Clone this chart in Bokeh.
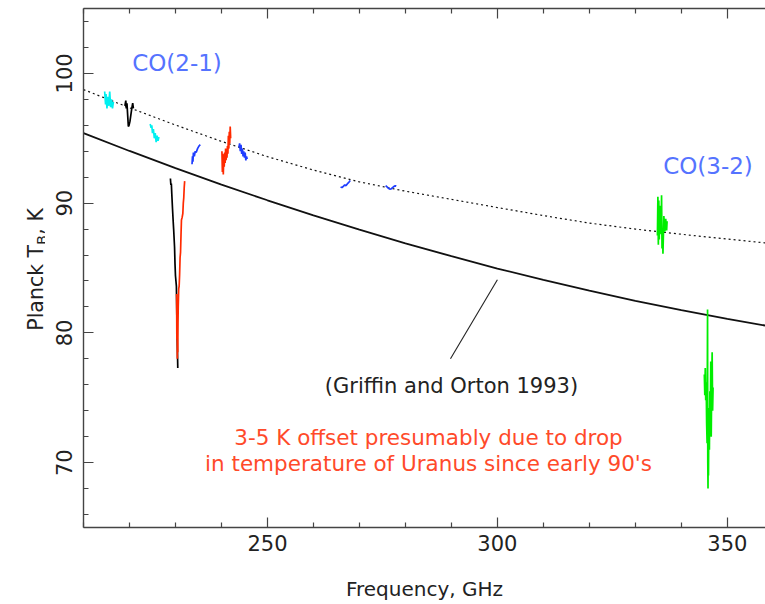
import math
from bokeh.plotting import figure
from bokeh.layouts import row
from bokeh.models import FixedTicker, LinearAxis, Range1d, Label
from bokeh.embed import file_html
from bokeh.resources import INLINE

# ---------------- data ----------------
# Griffin & Orton (1993) model, solid
model_freq = [210, 220, 230, 240, 250, 260, 270, 280, 290, 300, 310, 320, 330, 340, 350, 358.3]
model_tb = [95.40, 94.02, 92.70, 91.43, 90.22, 89.06, 87.96, 86.90, 85.91, 84.96, 84.08, 83.25, 82.47, 81.75, 81.08, 80.56]

# model shifted up (dotted)
offset_freq = [210, 220, 230, 240, 250, 260, 270, 280, 290, 300, 310, 320, 330, 340, 350, 358.3]
offset_tb = [98.75, 97.35, 96.02, 94.76, 93.58, 92.55, 91.64, 90.92, 90.29, 89.66, 89.04, 88.46, 88.00, 87.60, 87.23, 86.93]

cyan_a_freq = [214.6, 214.8, 214.9, 215.1, 215.3, 215.5, 215.7, 215.9, 216.1, 216.3, 216.5]
cyan_a_tb = [98.6, 97.6, 98.4, 97.3, 98.2, 97.5, 98.6, 97.4, 98.0, 97.3, 97.8]

black_a_freq = [219.0, 219.2, 219.3, 219.45, 219.6, 219.75, 219.9, 220.1, 220.3, 220.5, 220.7, 220.85]
black_a_tb = [97.5, 97.9, 97.3, 97.7, 96.8, 95.9, 96.0, 96.3, 96.8, 97.3, 97.7, 97.3]

cyan_b_freq = [224.5, 224.7, 224.85, 225.0, 225.2, 225.4, 225.6, 225.8, 226.0, 226.2, 226.4]
cyan_b_tb = [96.1, 95.8, 96.0, 95.4, 95.7, 95.0, 95.4, 94.7, 95.2, 94.8, 95.1]

black_line_freq = [228.9, 229.0, 229.1, 229.2, 229.35, 229.5, 229.6, 229.8, 229.9, 230.0, 230.2, 230.35, 230.5]
black_line_tb = [91.9, 91.4, 91.5, 90.7, 89.6, 88.6, 88.0, 86.6, 85.3, 84.4, 83.6, 80.0, 77.3]

red_line_freq = [230.25, 230.3, 230.35, 230.4, 230.45, 230.5, 230.55, 230.6, 230.7, 230.8, 230.9, 231.0,
                 231.1, 231.2, 231.3, 231.45, 231.6, 231.7, 231.8, 231.9, 232.0]
red_line_tb = [83.0, 79.5, 82.5, 78.0, 81.8, 78.5, 80.8, 82.0, 83.4, 83.6, 84.5, 85.8,
               86.2, 87.5, 88.7, 88.9, 89.2, 90.0, 90.4, 91.2, 91.7]

blue_a_freq = [233.6, 233.7, 233.8, 233.9, 234.1, 234.3, 234.5, 234.8, 235.1, 235.4]
blue_a_tb = [93.0, 93.6, 93.2, 93.9, 93.6, 94.0, 93.9, 94.2, 94.4, 94.5]

red_a_freq = [240.1, 240.2, 240.3, 240.4, 240.5, 240.6, 240.7, 240.8, 240.9, 241.0,
              241.1, 241.2, 241.3, 241.4, 241.5, 241.6, 241.7, 241.8, 241.9, 242.0]
red_a_tb = [94.0, 92.4, 93.8, 92.2, 93.5, 92.8, 93.9, 93.1, 94.2, 93.3,
            93.9, 93.5, 94.4, 93.8, 95.2, 94.2, 95.5, 94.6, 95.9, 95.0]

blue_b_freq = [243.8, 243.95, 244.1, 244.25, 244.4, 244.55, 244.7, 244.85, 245.0, 245.15, 245.3, 245.45, 245.6]
blue_b_tb = [94.3, 94.6, 94.0, 94.5, 93.8, 94.2, 93.6, 94.0, 93.5, 93.9, 93.3, 93.6, 93.4]

blue_c_freq = [265.9, 266.2, 266.5, 266.8, 267.1, 267.4, 267.7, 268.0]
blue_c_tb = [91.25, 91.2, 91.3, 91.4, 91.35, 91.5, 91.6, 91.75]

blue_d_freq = [275.7, 276.0, 276.3, 276.6, 276.9, 277.2, 277.5, 277.8, 278.0]
blue_d_tb = [91.35, 91.25, 91.15, 91.08, 91.1, 91.2, 91.28, 91.35, 91.3]

green_a_freq = [334.8, 334.9, 335.0, 335.1, 335.2, 335.3, 335.4, 335.5, 335.6, 335.7, 335.8, 335.9,
                336.0, 336.2, 336.4, 336.6, 336.8, 336.9]
green_a_tb = [87.5, 90.5, 86.8, 90.2, 87.2, 89.8, 88.2, 89.0, 87.6, 90.6, 86.5, 88.0,
              86.1, 89.0, 87.8, 88.8, 87.9, 88.6]

green_b_freq = [345.0, 345.1, 345.2, 345.3, 345.4, 345.5, 345.6, 345.7, 345.75, 345.8, 345.85, 345.9,
                346.0, 346.1, 346.2, 346.3, 346.4, 346.5, 346.6, 346.7, 346.8, 346.9]
green_b_tb = [76.8, 75.2, 77.3, 74.8, 76.2, 73.0, 71.5, 81.8, 70.0, 68.0, 72.5, 69.0,
              74.2, 71.0, 75.5, 73.5, 77.8, 72.0, 76.0, 78.5, 74.0, 75.8]

# pointer from the citation to the model curve
pointer_freq = [289.8, 300.0]
pointer_tb = [78.0, 84.1]

x_major = [250, 300, 350]
x_minor = [210, 220, 230, 240, 260, 270, 280, 290, 310, 320, 330, 340, 360]
y_major = [70, 80, 90, 100]
y_minor = [66, 68, 72, 74, 76, 78, 82, 84, 86, 88, 92, 94, 96, 98, 102, 104]

FONT = "DejaVu Sans"
INK = "#222222"
AXIS = "#444444"
LEFT_W = 45  # width of the narrow panel that holds the y-axis title
TOP, BOTTOM = 8, 526.7  # page rows of the plot frame

p = figure(width=765 - LEFT_W, height=604, x_range=Range1d(210, 358.3), y_range=Range1d(65, 105),
           output_backend="svg", toolbar_location=None,
           min_border_left=83 - LEFT_W, min_border_right=0, min_border_top=8, min_border_bottom=77)
p.grid.visible = False
p.outline_line_color = None
p.background_fill_color = "white"
p.border_fill_color = "white"

xt = FixedTicker(ticks=x_major, minor_ticks=x_minor)
yt = FixedTicker(ticks=y_major, minor_ticks=y_minor)


def style(ax, labels=True):
    ax.axis_line_color = AXIS
    ax.axis_line_width = 1.4
    ax.major_tick_line_color = AXIS
    ax.minor_tick_line_color = AXIS
    ax.major_tick_line_width = 1.2
    ax.minor_tick_line_width = 1.2
    ax.major_tick_in = 10
    ax.major_tick_out = 0
    ax.minor_tick_in = 5
    ax.minor_tick_out = 0
    ax.major_label_text_font = FONT
    ax.major_label_text_font_size = "21px" if labels else "1px"
    ax.major_label_text_color = INK


p.xaxis.ticker = xt
p.yaxis.ticker = yt
style(p.xaxis[0])
style(p.yaxis[0])
p.xaxis.major_label_standoff = 7
p.yaxis.major_label_standoff = 12
p.yaxis.major_label_orientation = "vertical"
p.xaxis.axis_label = "Frequency, GHz"
p.xaxis.axis_label_text_font = FONT
p.xaxis.axis_label_text_font_size = "20px"
p.xaxis.axis_label_text_font_style = "normal"
p.xaxis.axis_label_text_color = INK
p.xaxis.axis_label_standoff = 23

top = LinearAxis(ticker=xt, major_label_standoff=0)
style(top, labels=False)
top.major_label_overrides = {250: "", 300: "", 350: ""}
p.add_layout(top, "above")

# curves
p.line(model_freq, model_tb, line_color="#111111", line_width=1.8)
p.line(offset_freq, offset_tb, line_color="#111111", line_width=1.2, line_dash="2 3")
p.line(pointer_freq, pointer_tb, line_color="#222222", line_width=1.1)

CYAN = "#00f0f0"
BLUE = "#1f3dff"
RED = "#ff2a00"
GREEN = "#00ee00"
spectra = [
    (cyan_a_freq, cyan_a_tb, CYAN),
    (black_a_freq, black_a_tb, "#000000"),
    (cyan_b_freq, cyan_b_tb, CYAN),
    (black_line_freq, black_line_tb, "#000000"),
    (red_line_freq, red_line_tb, RED),
    (blue_a_freq, blue_a_tb, BLUE),
    (red_a_freq, red_a_tb, RED),
    (blue_b_freq, blue_b_tb, BLUE),
    (blue_c_freq, blue_c_tb, BLUE),
    (blue_d_freq, blue_d_tb, BLUE),
    (green_a_freq, green_a_tb, GREEN),
    (green_b_freq, green_b_tb, GREEN),
]
for fx, ty, col in spectra:
    p.line(fx, ty, line_color=col, line_width=1.7)


# helpers converting pixel placement (page coords) to data units (layout only)
def gx(px):
    return 210 + (px - 83) * (358.3 - 210) / (765 - 83)


def gy(py):
    return 105 - (py - TOP) * 40 / (BOTTOM - TOP)


def lab(x, y, text, size, color=INK, align="center"):
    p.add_layout(Label(x=x, y=y, text=text, text_font=FONT, text_font_size=size,
                       text_color=color, text_align=align, text_baseline="alphabetic"))


TEXT_BLUE = "#5573ff"
TEXT_RED = "#ff4a2a"
lab(gx(176.5), gy(62), "CO(2-1)", "23px", TEXT_BLUE)
lab(gx(707.5), gy(165), "CO(3-2)", "23px", TEXT_BLUE)
lab(gx(451), gy(385), "(Griffin and Orton 1993)", "21px")
lab(gx(428), gy(437), "3-5 K offset presumably due to drop", "21.5px", TEXT_RED)
lab(gx(428), gy(463), "in temperature of Uranus since early 90's", "21.5px", TEXT_RED)

# narrow left panel with the y-axis title (T with subscript B).
# In a row its frame is aligned with the main frame, so y = 604 - page row.
side = figure(width=LEFT_W, height=604, x_range=Range1d(0, LEFT_W),
              y_range=Range1d(604 - BOTTOM, 604 - TOP),
              output_backend="svg", toolbar_location=None,
              x_axis_location=None, y_axis_location=None,
              min_border_left=0, min_border_right=0, min_border_top=0, min_border_bottom=0)
side.grid.visible = False
side.outline_line_color = None
side.border_fill_color = "white"
side.background_fill_color = "white"
ang = math.pi / 2


def side_text(x, y_page, text, size):
    side.add_layout(Label(x=x, y=604 - y_page, text=text, angle=ang, text_font=FONT,
                          text_font_size=size, text_color=INK, text_align="left",
                          text_baseline="alphabetic"))


side_text(35, 330, "Planck T", "20.5px")
side_text(41, 244, "B", "14px")
side_text(35, 234, ", K", "20.5px")

layout = row(side, p, spacing=0)
open("out.html", "w").write(file_html(layout, INLINE))
